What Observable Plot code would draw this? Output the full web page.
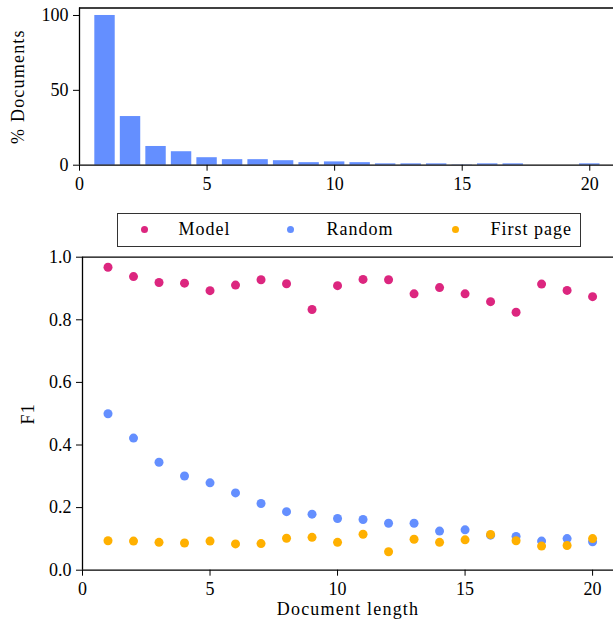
<!DOCTYPE html>
<html><head><meta charset="utf-8">
<script src="https://cdn.jsdelivr.net/npm/d3@7"></script>
<script src="https://cdn.jsdelivr.net/npm/@observablehq/plot@0.6"></script>
<style>
body{margin:0;background:#fff;}
#wrap{position:relative;width:613px;height:630px;font-family:"Liberation Serif",serif;overflow:hidden;}
#top{position:absolute;left:0;top:0;}
#bottom{position:absolute;left:0;top:250px;}
#legend{position:absolute;left:117px;top:213px;width:462px;height:32px;border:1.5px solid #333;background:#fff;}
#legend .dot{position:absolute;width:7px;height:7px;border-radius:50%;top:12px;}
#legend .lab{position:absolute;top:4px;font-size:18px;line-height:22px;color:#000;letter-spacing:1px;}
svg{overflow:visible;}
</style>
</head><body>
<div id="wrap">
  <div id="top"></div>
  <div id="legend"></div>
  <div id="bottom"></div>
</div>
<script>
// Data
const docLength = [1,2,3,4,5,6,7,8,9,10,11,12,13,14,15,16,17,18,19,20];
const pctDocuments = [100,32.5,12.5,9,5,3.7,3.7,3,1.7,2.2,1.7,0.9,0.9,0.9,0.2,0.9,0.9,0,0,0.9];
const modelF1 = [0.968,0.938,0.919,0.917,0.893,0.911,0.928,0.915,0.833,0.909,0.929,0.928,0.883,0.903,0.883,0.858,0.824,0.914,0.894,0.874];
const randomF1 = [0.500,0.422,0.345,0.301,0.279,0.247,0.213,0.187,0.179,0.165,0.162,0.150,0.150,0.125,0.129,0.112,0.108,0.093,0.101,0.091];
const firstPageF1 = [0.094,0.093,0.089,0.087,0.093,0.084,0.085,0.102,0.105,0.089,0.115,0.059,0.099,0.089,0.097,0.114,0.094,0.077,0.079,0.101];
const seriesNames = ["Model","Random","First page"];
const seriesColors = ["#dc267f","#648fff","#ffb000"];
const xTicks = [0,5,10,15,20];
const topYTicks = [0,50,100];
const bottomYTicks = [0,0.2,0.4,0.6,0.8,1.0];
const axisLabels = ["% Documents","F1","Document length"];

const font = {fontFamily:"'Liberation Serif', serif", fontSize:"18px", background:"transparent", overflow:"visible"};

// Top: bar chart
const bars = docLength.map((x,i)=>({x, v:pctDocuments[i]}));
const topPlot = Plot.plot({
  width:613, height:200,
  marginLeft:79, marginRight:0, marginTop:7.5, marginBottom:35.3,
  style:font, color:"black",
  x:{domain:[0,20.93], ticks:xTicks, tickSize:6, tickPadding:6, label:null},
  y:{domain:[0,105], ticks:topYTicks, tickSize:6, tickPadding:5, label:null},
  marks:[
    Plot.rectY(bars,{x1:d=>d.x-0.4, x2:d=>d.x+0.4, y1:0, y2:"v", fill:seriesColors[1]}),
    Plot.ruleY([0],{stroke:"black", strokeWidth:1.3}),
    Plot.ruleY([105],{stroke:"black", strokeWidth:1.3}),
    Plot.ruleX([0],{stroke:"black", strokeWidth:1.3}),
    Plot.text([axisLabels[0]],{text:d=>d, frameAnchor:"left", textAnchor:"middle", rotate:-90, dx:-61, fontSize:18})
  ]
});
document.getElementById("top").appendChild(topPlot);

// Legend
const legend = document.getElementById("legend");
const legendPos = [[23,60.5],[169,208.5],[334,372.5]];
seriesNames.forEach((name,i)=>{
  const d = document.createElement("span"); d.className="dot"; d.style.left=legendPos[i][0]+"px"; d.style.background=seriesColors[i];
  const t = document.createElement("span"); t.className="lab"; t.style.left=legendPos[i][1]+"px"; t.textContent=name;
  legend.appendChild(d); legend.appendChild(t);
});

// Bottom: scatter
const pts = [];
[modelF1, randomF1, firstPageF1].forEach((arr,k)=>arr.forEach((v,i)=>pts.push({x:docLength[i], y:v, s:seriesNames[k]})));
const bottomPlot = Plot.plot({
  width:613, height:380,
  marginLeft:82, marginRight:0, marginTop:6.7, marginBottom:60.3,
  style:font, color:{domain:seriesNames, range:seriesColors},
  x:{domain:[0,20.82], ticks:xTicks, tickSize:6, tickPadding:6, label:null},
  y:{domain:[0,1], ticks:bottomYTicks, tickFormat:".1f", tickSize:6, tickPadding:5, label:null},
  marks:[
    Plot.dot(pts,{x:"x", y:"y", fill:"s", r:4.5, stroke:null}),
    Plot.ruleY([0],{stroke:"black", strokeWidth:1.3}),
    Plot.ruleY([1],{stroke:"black", strokeWidth:1.3}),
    Plot.ruleX([0],{stroke:"black", strokeWidth:1.3}),
    Plot.text([axisLabels[1]],{text:d=>d, frameAnchor:"left", textAnchor:"middle", rotate:-90, dx:-54, fontSize:18}),
    Plot.text([axisLabels[2]],{text:d=>d, frameAnchor:"bottom", dy:45, fontSize:18})
  ]
});
bottomPlot.style.color = "black";
document.getElementById("bottom").appendChild(bottomPlot);

// widen axis titles slightly to approximate the reference's wider serif
[topPlot, bottomPlot].forEach(svg => svg.querySelectorAll("text").forEach(t => {
  if (axisLabels.includes(t.textContent)) t.style.letterSpacing = "1.2px";
}));
</script>
</body></html>
